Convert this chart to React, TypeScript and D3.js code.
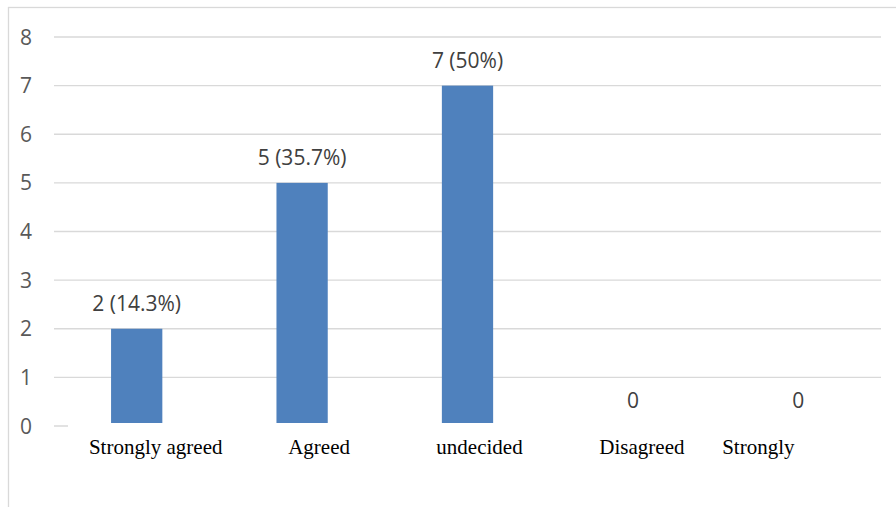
import React from 'react';
import * as d3 from 'd3';

const categories = ['Strongly agreed', 'Agreed', 'undecided', 'Disagreed', 'Strongly'];
const counts = [2, 5, 7, 0, 0];
const dataLabels = ['2 (14.3%)', '5 (35.7%)', '7 (50%)', '0', '0'];
const yTicks = [0, 1, 2, 3, 4, 5, 6, 7, 8];

// hand placed text box labels in the source, so they sit a bit off the bar centres
const labelNudge = [19, 17, 12, 9, -40];

const size = { width: 896, height: 507 };

const App = () => {
  const plot = { left: 54, right: 881, top: 37, bottom: 426 };

  const xScale = d3
    .scaleBand()
    .domain(categories)
    .range([plot.left, plot.right])
    .paddingInner(0)
    .paddingOuter(0);

  const yScale = d3
    .scaleLinear()
    .domain([0, d3.max(yTicks)!])
    .range([plot.bottom, plot.top]);

  const barWidth = xScale.step() * 0.31;
  const sans = '"Open Sans", "Noto Sans", sans-serif';
  const serif = '"Liberation Serif", "DejaVu Serif", serif';

  const grid = yTicks.map(t => (
    <g key={t}>
      <line
        x1={plot.left}
        x2={plot.right}
        y1={yScale(t)}
        y2={yScale(t)}
        stroke="#d9d9d9"
        strokeWidth={1.3}
      />
      <text
        x={32}
        y={yScale(t)}
        dy="0.36em"
        textAnchor="end"
        fontFamily={sans}
        fontSize={21}
        fill="#595959"
      >
        {t}
      </text>
    </g>
  ));

  const bars = categories.map((c, i) => {
    const cx = xScale(c)! + xScale.bandwidth() / 2;
    return (
      <g key={c}>
        <rect
          x={cx - barWidth / 2}
          y={yScale(counts[i])}
          width={barWidth}
          height={plot.bottom - yScale(counts[i])}
          fill="#4f81bd"
        />
        <text
          x={cx}
          y={yScale(counts[i]) - 18}
          textAnchor="middle"
          fontFamily={sans}
          fontSize={21}
          fill="#404040"
        >
          {dataLabels[i]}
        </text>
      </g>
    );
  });

  const catLabels = categories.map((c, i) => {
    const cx = xScale(c)! + xScale.bandwidth() / 2 + labelNudge[i];
    return (
      <text
        key={c}
        x={cx}
        y={454}
        textAnchor="middle"
        fontFamily={serif}
        fontSize={21}
        fill="#000"
      >
        {c}
      </text>
    );
  });

  return (
    <svg
      width={size.width}
      height={size.height}
      style={{ position: 'absolute', left: 0, top: 0, background: '#fff' }}
    >
      <defs>
        <clipPath id="labelBox">
          <rect x={68} y={423} width={size.width} height={42} />
        </clipPath>
      </defs>
      <rect
        x={8.5}
        y={7.5}
        width={size.width + 10}
        height={size.height + 10}
        fill="#fff"
        stroke="#d9d9d9"
        strokeWidth={1.3}
      />
      <g className="grid">{grid}</g>
      <g className="bars">{bars}</g>
      {/* white text box of the axis labels hides the zero line */}
      <rect x={68} y={423} width={size.width} height={size.height} fill="#fff" />
      <g className="categories" clipPath="url(#labelBox)">
        {catLabels}
        <text
          x={88}
          y={479}
          fontFamily={serif}
          fontSize={21}
          fill="#000"
        >
          Disagreed
        </text>
      </g>
    </svg>
  );
};

export default App;
